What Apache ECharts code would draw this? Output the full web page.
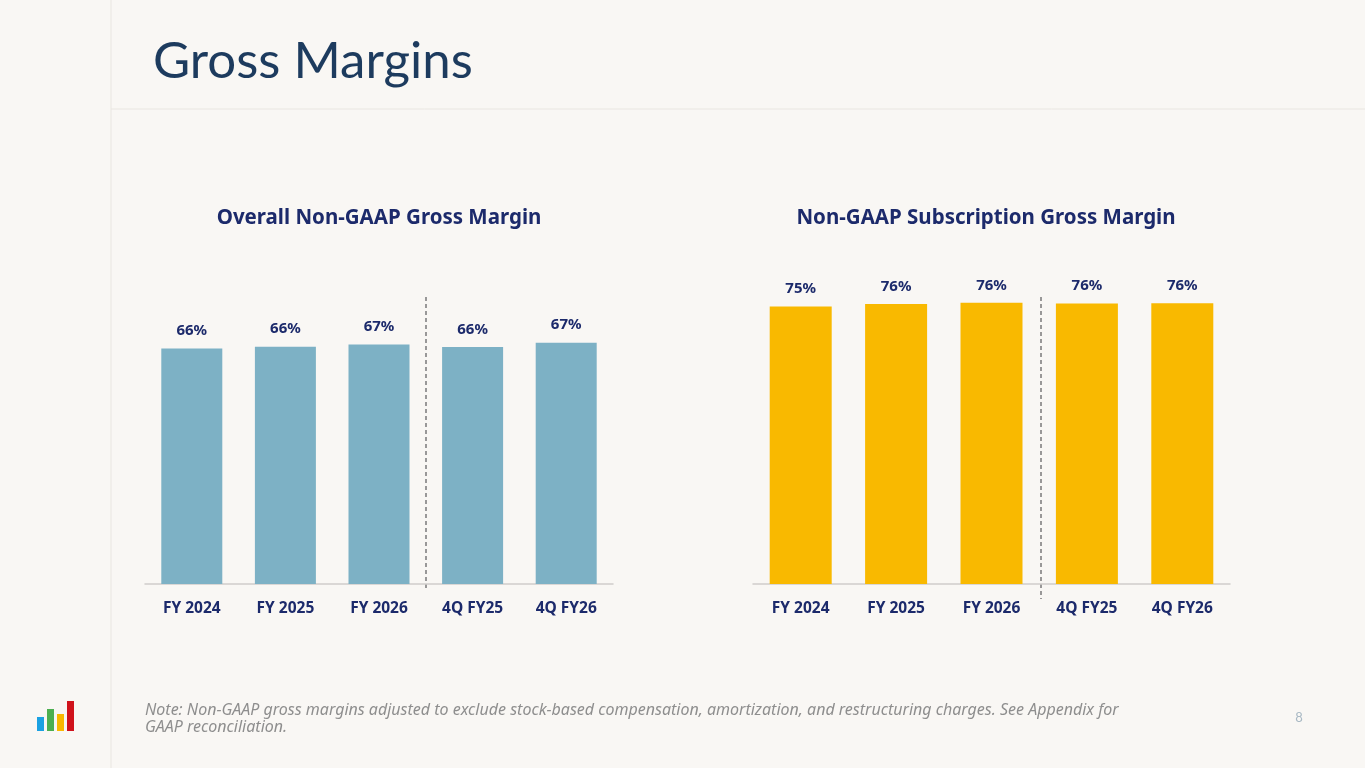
<!DOCTYPE html>
<html>
<head>
<meta charset="utf-8">
<script src="https://cdn.jsdelivr.net/npm/echarts@6/dist/echarts.min.js"></script>
<style>
  html, body { margin: 0; padding: 0; background: #f9f7f4; }
  #chart { width: 1365px; height: 768px; }
</style>
</head>
<body>
<div id="chart"></div>
<script>
const categories = ['FY 2024', 'FY 2025', 'FY 2026', '4Q FY25', '4Q FY26'];
const overallMargin = [65.8, 66.3, 66.9, 66.2, 67.4];
const subscriptionMargin = [75.4, 76.1, 76.4, 76.2, 76.3];

const navy = '#1c2a6b';
const font = 'Lato, "Noto Sans", sans-serif';
const boldFont = '"Noto Sans", Lato, sans-serif';

const chart = echarts.init(document.getElementById('chart'));

function labelCfg() {
  return {
    show: true, position: 'top', distance: 10,
    color: navy, fontFamily: boldFont, fontWeight: 'bold', fontSize: 15,
    formatter: p => Math.round(p.value) + '%'
  };
}

chart.setOption({
  backgroundColor: '#f9f7f4',
  animation: false,
  grid: [
    { left: 145, right: 752, top: 226, bottom: 184 },
    { left: 753, right: 135, top: 216, bottom: 184 }
  ],
  xAxis: [0, 1].map(i => ({
    type: 'category', gridIndex: i, data: categories,
    axisLine: { lineStyle: { color: '#cfcdca', width: 1.5 } },
    axisTick: { show: false },
    axisLabel: { color: navy, fontFamily: boldFont, fontWeight: 'bold', fontSize: 15.5, margin: 17 }
  })),
  yAxis: [0, 1].map(i => ({
    type: 'value', gridIndex: i, min: 0, max: 100, show: false,
    splitLine: { show: false }
  })),
  series: [
    {
      type: 'bar', xAxisIndex: 0, yAxisIndex: 0, data: overallMargin,
      barWidth: 61, itemStyle: { color: '#7db1c5' }, label: labelCfg()
    },
    {
      type: 'bar', xAxisIndex: 1, yAxisIndex: 1, data: subscriptionMargin,
      barWidth: 62, itemStyle: { color: '#f9b900' }, label: labelCfg()
    }
  ],
  graphic: [
    { type: 'line', shape: { x1: 111, y1: 0, x2: 111, y2: 768 }, style: { stroke: '#e9e6e1', lineWidth: 1 } },
    { type: 'line', shape: { x1: 111, y1: 109, x2: 1365, y2: 109 }, style: { stroke: '#e9e6e1', lineWidth: 1 } },
    { type: 'text', x: 153, y: 62, style: { text: 'Gross Margins', fill: '#1d3b5e', font: 'normal 51px ' + font, textVerticalAlign: 'middle' } },
    { type: 'text', x: 379, y: 218, style: { text: 'Overall Non-GAAP Gross Margin', fill: navy, font: 'bold 20.5px ' + boldFont, textAlign: 'center', textVerticalAlign: 'middle' } },
    { type: 'text', x: 986, y: 218, style: { text: 'Non-GAAP Subscription Gross Margin', fill: navy, font: 'bold 20.5px ' + boldFont, textAlign: 'center', textVerticalAlign: 'middle' } },
    { type: 'line', shape: { x1: 426, y1: 297, x2: 426, y2: 591 }, style: { stroke: '#7a7a7a', lineWidth: 1.5, lineDash: [4, 3] } },
    { type: 'line', shape: { x1: 1041, y1: 297, x2: 1041, y2: 599 }, style: { stroke: '#7a7a7a', lineWidth: 1.5, lineDash: [4, 3] } },
    { type: 'text', x: 145, y: 710, style: { text: 'Note: Non-GAAP gross margins adjusted to exclude stock-based compensation, amortization, and restructuring charges. See Appendix for', fill: '#8e8e8e', font: 'italic 16px ' + boldFont, textVerticalAlign: 'middle' } },
    { type: 'text', x: 145, y: 727, style: { text: 'GAAP reconciliation.', fill: '#8e8e8e', font: 'italic 16px ' + boldFont, textVerticalAlign: 'middle' } },
    { type: 'text', x: 1299, y: 718, style: { text: '8', fill: '#a9b9c4', font: 'normal 13px ' + font, textAlign: 'center', textVerticalAlign: 'middle' } },
    { type: 'rect', shape: { x: 37, y: 717, width: 7, height: 14 }, style: { fill: '#1ba1e2' } },
    { type: 'rect', shape: { x: 47, y: 709, width: 7, height: 22 }, style: { fill: '#4caf50' } },
    { type: 'rect', shape: { x: 57, y: 714, width: 7, height: 17 }, style: { fill: '#f9b800' } },
    { type: 'rect', shape: { x: 67, y: 701, width: 7, height: 30 }, style: { fill: '#d0121b' } }
  ]
});
</script>
</body>
</html>
